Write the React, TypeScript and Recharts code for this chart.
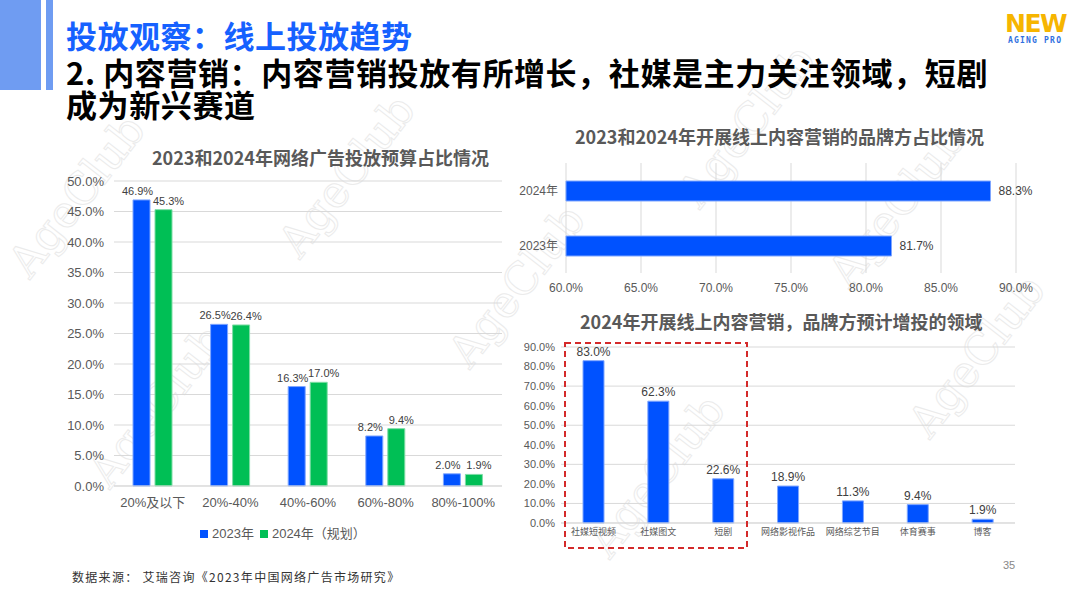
import React from 'react'
import {
  BarChart,
  Bar,
  XAxis,
  YAxis,
  CartesianGrid,
  LabelList,
} from 'recharts'

// left chart: budget share
const budgetCats = ['20%及以下', '20%-40%', '40%-60%', '60%-80%', '80%-100%']
const budget2023 = [46.9, 26.5, 16.3, 8.2, 2.0]
const budget2024 = [45.3, 26.4, 17.0, 9.4, 1.9]
const budgetTicks = [0, 5, 10, 15, 20, 25, 30, 35, 40, 45, 50]

// top right: brands doing online content marketing
const brandYears = ['2024年', '2023年']
const brandShare = [88.3, 81.7]
const brandTicks = [60, 65, 70, 75, 80, 85, 90]

// bottom right: areas with planned increase
const areaCats = ['社媒短视频', '社媒图文', '短剧', '网络影视作品', '网络综艺节目', '体育赛事', '博客']
const areaShare = [83.0, 62.3, 22.6, 18.9, 11.3, 9.4, 1.9]
const areaTicks = [0, 10, 20, 30, 40, 50, 60, 70, 80, 90]

const BLUE = '#0052ff'
const GREEN = '#00bf55'
const GRID = '#d9d9d9'
const TEXT = '#595959'
const SANS = '"Liberation Sans", Arial, "Noto Sans CJK SC", sans-serif'
const CJK = '"Noto Sans CJK SC", "Liberation Sans", sans-serif'

const pct = (v: number) => `${Number(v).toFixed(1)}%`

const budgetData = budgetCats.map((c, i) => ({ cat: c, y2023: budget2023[i], y2024: budget2024[i] }))
const brandData = brandYears.map((y, i) => ({ year: y, share: brandShare[i] }))
const areaData = areaCats.map((c, i) => ({ cat: c, share: areaShare[i] }))

const watermarks = [
  { x: 30, y: 280 },
  { x: 110, y: 490 },
  { x: 300, y: 260 },
  { x: 470, y: 370 },
  { x: 700, y: 210 },
  { x: 850, y: 290 },
  { x: 610, y: 560 },
  { x: 930, y: 440 },
]

const chartTitle: React.CSSProperties = {
  position: 'absolute',
  fontFamily: CJK,
  fontWeight: 700,
  fontSize: 18,
  color: TEXT,
  lineHeight: '18px',
  whiteSpace: 'nowrap',
}

const heading: React.CSSProperties = {
  position: 'absolute',
  left: 66,
  fontFamily: CJK,
  fontWeight: 700,
  fontSize: 31,
  lineHeight: '31px',
  letterSpacing: 0.6,
  whiteSpace: 'nowrap',
}

export default function App() {
  return (
    <div
      style={{
        position: 'absolute',
        left: 0,
        top: 0,
        width: 1080,
        height: 608,
        background: '#fff',
        overflow: 'hidden',
        fontFamily: SANS,
      }}
    >
      {/* faint watermark */}
      <svg width={1080} height={608} style={{ position: 'absolute', left: 0, top: 0, pointerEvents: 'none' }}>
        {watermarks.map((w, i) => (
          <text
            key={i}
            x={w.x}
            y={w.y}
            transform={`rotate(-52 ${w.x} ${w.y})`}
            fontFamily='"DejaVu Serif", "Liberation Serif", serif'
            fontSize={44}
            fill="none"
            stroke="#ebebeb"
            strokeWidth={1}
          >
            AgeClub
          </text>
        ))}
      </svg>

      {/* left decoration */}
      <div style={{ position: 'absolute', left: 0, top: 0, width: 41, height: 90, background: '#6f9cf2' }} />
      <div style={{ position: 'absolute', left: 46, top: 0, width: 7, height: 90, background: '#6f9cf2' }} />

      {/* headings */}
      <div style={{ ...heading, top: 19, color: '#1661ff', letterSpacing: 0.5 }}>投放观察：线上投放趋势</div>
      <div style={{ ...heading, top: 56, color: '#000' }}>2. 内容营销：内容营销投放有所增长，社媒是主力关注领域，短剧</div>
      <div style={{ ...heading, top: 88, color: '#000' }}>成为新兴赛道</div>

      {/* logo */}
      <div style={{ position: 'absolute', left: 1005, top: 11, fontFamily: '"DejaVu Sans", sans-serif', fontWeight: 900, fontSize: 25, lineHeight: '25px', color: '#f6b500', letterSpacing: -1.5 }}>
        NEW
      </div>
      <div style={{ position: 'absolute', left: 1008, top: 37, fontFamily: '"DejaVu Sans Mono", monospace', fontWeight: 700, fontSize: 8, lineHeight: '8px', color: '#2f6fe0', letterSpacing: 1.2 }}>
        AGING PRO
      </div>

      {/* left chart */}
      <div style={{ ...chartTitle, left: 152, top: 148 }}>2023和2024年网络广告投放预算占比情况</div>
      <div style={{ position: 'absolute', left: 0, top: 160 }}>
        <BarChart
          width={520}
          height={360}
          data={budgetData}
          margin={{ top: 21, right: 18, bottom: 0, left: 0 }}
          barSize={17}
          barGap={5}
        >
          <CartesianGrid vertical={false} stroke={GRID} />
          <XAxis
            dataKey="cat"
            height={34}
            tickSize={0}
            tickMargin={12}
            axisLine={{ stroke: GRID }}
            tick={{ fill: TEXT, fontSize: 13, fontFamily: SANS }}
            interval={0}
          />
          <YAxis
            width={114}
            domain={[0, 50]}
            ticks={budgetTicks}
            tickFormatter={pct}
            tickSize={0}
            tickMargin={10}
            axisLine={false}
            tick={{ fill: TEXT, fontSize: 13, fontFamily: SANS }}
          />
          <Bar dataKey="y2023" fill={BLUE} stroke="#7fa6ff" strokeWidth={1} isAnimationActive={false}>
            <LabelList dataKey="y2023" position="top" dx={-4} formatter={pct} fill="#404040" fontSize={11} fontFamily={SANS} />
          </Bar>
          <Bar dataKey="y2024" fill={GREEN} stroke="#7fdca6" strokeWidth={1} isAnimationActive={false}>
            <LabelList dataKey="y2024" position="top" dx={5} formatter={pct} fill="#404040" fontSize={11} fontFamily={SANS} />
          </Bar>
        </BarChart>
      </div>
      <div style={{ position: 'absolute', left: 200, top: 526, display: 'flex', alignItems: 'center', fontSize: 13, color: TEXT, fontFamily: SANS, whiteSpace: 'nowrap', lineHeight: '16px' }}>
        <span style={{ width: 8, height: 8, background: BLUE, marginRight: 4 }} />
        <span style={{ marginRight: 6 }}>2023年</span>
        <span style={{ width: 8, height: 8, background: GREEN, marginRight: 4 }} />
        <span>2024年（规划）</span>
      </div>

      {/* top right chart */}
      <div style={{ ...chartTitle, left: 575, top: 127 }}>2023和2024年开展线上内容营销的品牌方占比情况</div>
      <div style={{ position: 'absolute', left: 500, top: 155 }}>
        <BarChart
          width={560}
          height={150}
          data={brandData}
          layout="vertical"
          margin={{ top: 8, right: 44, bottom: 0, left: 0 }}
          barSize={20}
        >
          <CartesianGrid horizontal={false} stroke={GRID} />
          <XAxis
            type="number"
            domain={[60, 90]}
            ticks={brandTicks}
            tickFormatter={pct}
            height={32}
            tickSize={0}
            tickMargin={10}
            axisLine={false}
            tick={{ fill: TEXT, fontSize: 12, fontFamily: SANS }}
          />
          <YAxis
            type="category"
            dataKey="year"
            width={66}
            tickSize={0}
            tickMargin={8}
            axisLine={false}
            tick={{ fill: TEXT, fontSize: 12, fontFamily: SANS }}
          />
          <Bar dataKey="share" fill={BLUE} stroke="#7fa6ff" strokeWidth={1} isAnimationActive={false}>
            <LabelList dataKey="share" position="right" offset={8} formatter={pct} fill="#404040" fontSize={12} fontFamily={SANS} />
          </Bar>
        </BarChart>
      </div>

      {/* bottom right chart */}
      <div style={{ ...chartTitle, left: 580, top: 312 }}>2024年开展线上内容营销，品牌方预计增投的领域</div>
      <div style={{ position: 'absolute', left: 500, top: 335 }}>
        <BarChart
          width={560}
          height={215}
          data={areaData}
          margin={{ top: 12, right: 45, bottom: 0, left: 0 }}
          barSize={21}
        >
          <CartesianGrid vertical={false} stroke={GRID} />
          <XAxis
            dataKey="cat"
            height={27}
            tickSize={0}
            tickMargin={6}
            axisLine={{ stroke: GRID }}
            interval={0}
            tick={{ fill: TEXT, fontSize: 9, fontFamily: CJK }}
          />
          <YAxis
            width={61}
            domain={[0, 90]}
            ticks={areaTicks}
            tickFormatter={pct}
            tickSize={0}
            tickMargin={6}
            axisLine={false}
            tick={{ fill: TEXT, fontSize: 11, fontFamily: SANS }}
          />
          <Bar dataKey="share" fill={BLUE} stroke="#7fa6ff" strokeWidth={1} isAnimationActive={false}>
            <LabelList dataKey="share" position="top" formatter={pct} fill="#404040" fontSize={12} fontFamily={SANS} />
          </Bar>
        </BarChart>
      </div>

      {/* highlight box */}
      <svg width={1080} height={608} style={{ position: 'absolute', left: 0, top: 0, pointerEvents: 'none' }}>
        <rect x={565} y={343} width={182} height={205} fill="none" stroke="#d42a2a" strokeWidth={2} strokeDasharray="6 4" />
      </svg>

      {/* footer */}
      <div style={{ position: 'absolute', left: 72, top: 570, fontFamily: CJK, fontSize: 12, lineHeight: '14px', color: '#333', letterSpacing: 1.3, whiteSpace: 'nowrap' }}>
        数据来源： 艾瑞咨询《2023年中国网络广告市场研究》
      </div>
      <div style={{ position: 'absolute', left: 1003, top: 559, fontFamily: SANS, fontSize: 11, lineHeight: '12px', color: '#888' }}>
        35
      </div>
    </div>
  )
}
